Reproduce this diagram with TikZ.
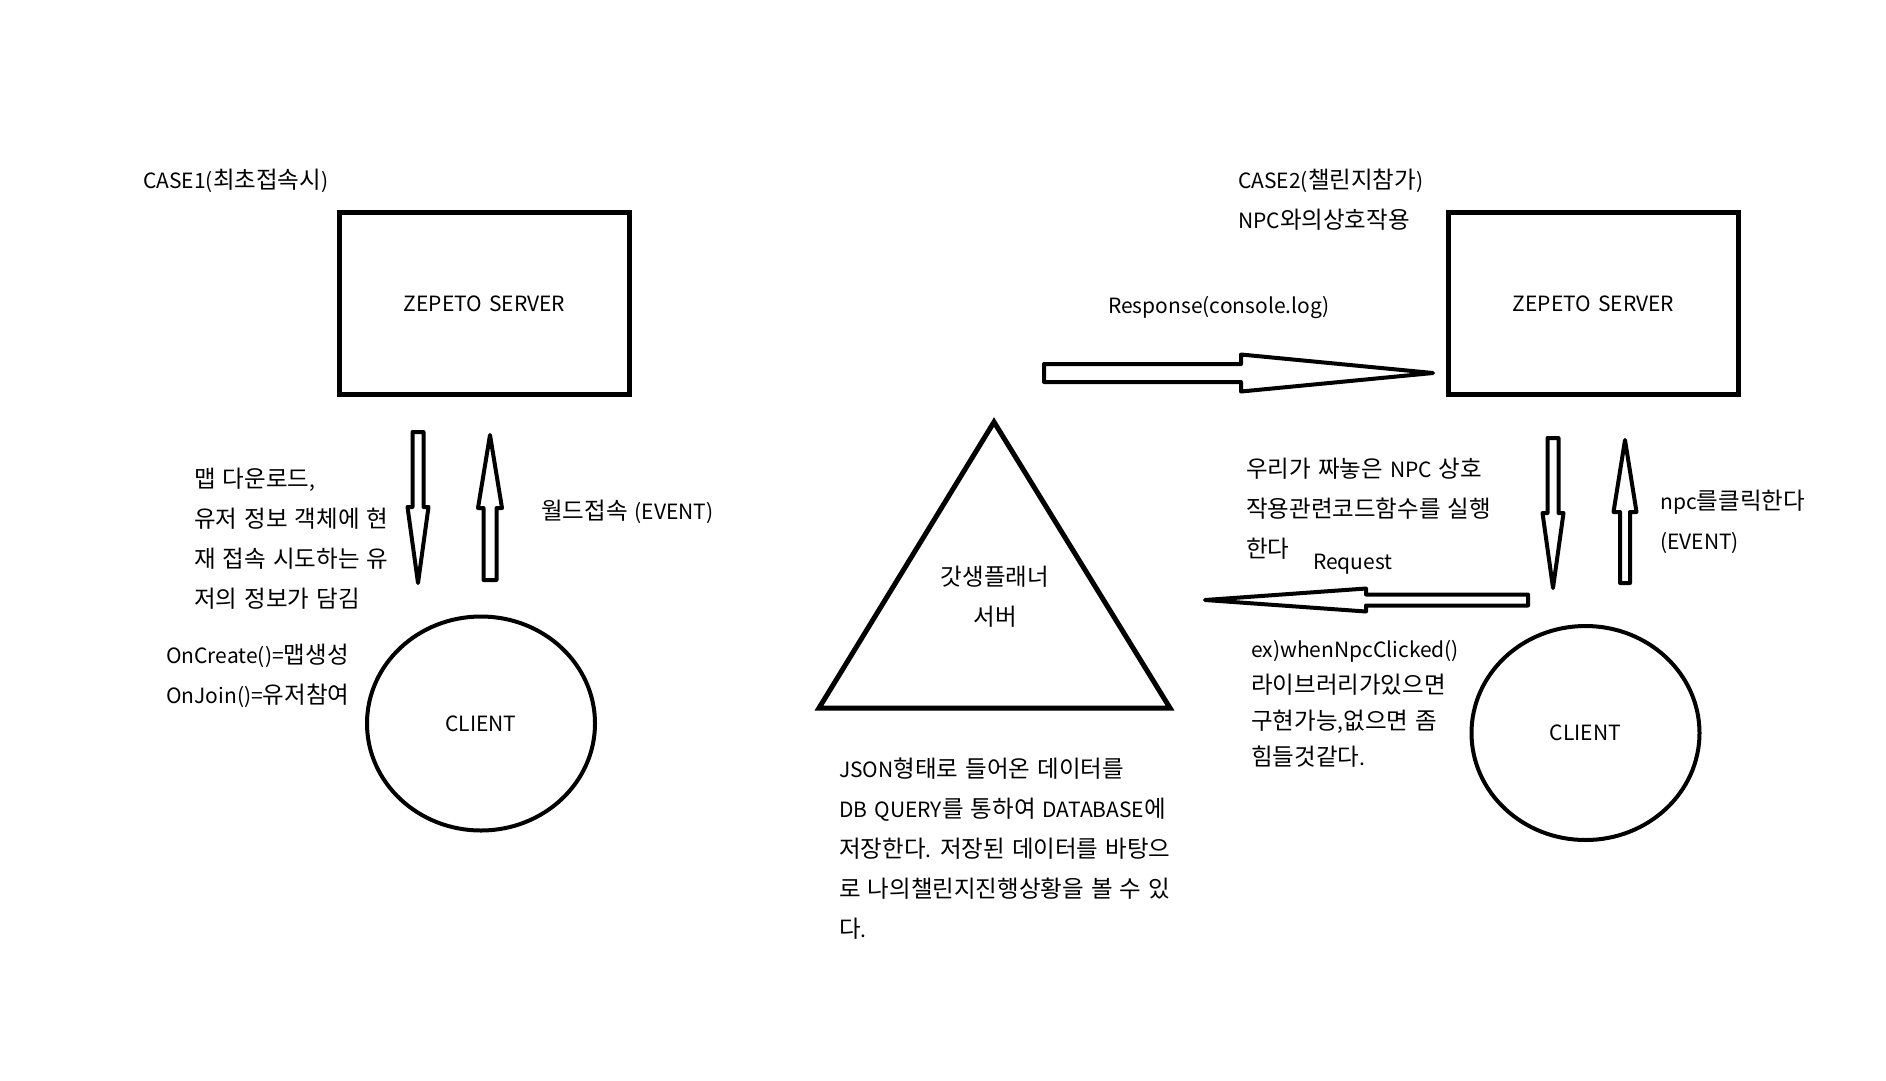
\documentclass[tikz,border=0pt]{standalone}
\usepackage{fontspec}
\setmainfont{Noto Sans CJK KR}[WordSpace=1.5]
\usetikzlibrary{shapes.geometric,calc}

% hangul set a little larger than latin
\XeTeXinterchartokenstate=1
\newXeTeXintercharclass\hangulcls
\newcount\hcnt
\hcnt="AC00
\loop
  \XeTeXcharclass\hcnt=\hangulcls
  \ifnum\hcnt<"D7A3 \advance\hcnt by 1
\repeat
\XeTeXinterchartoks 0 \hangulcls = {\begingroup\fontsize{23.5}{40}\selectfont}
\XeTeXinterchartoks 4095 \hangulcls = {\begingroup\fontsize{23.5}{40}\selectfont}
\XeTeXinterchartoks \hangulcls 0 = {\endgroup}
\XeTeXinterchartoks \hangulcls 4095 = {\endgroup}

\tikzset{
  server/.style={draw, line width=4.5pt, minimum width=290pt, minimum height=182pt, inner sep=0pt, font=\fontsize{21}{40}\selectfont},
  client/.style={draw, ellipse, line width=4pt, minimum width=228pt, minimum height=214pt, inner sep=0pt, font=\fontsize{21}{40}\selectfont},
  txt/.style={inner sep=0pt, align=left, font=\fontsize{21}{40}\selectfont},
  hollow/.style={draw, line width=4pt, line join=round},
}

% hollow block arrow: start, tip, shaft half width, head half width, head length
\newcommand{\blockarr}[5]{%
  \coordinate (hb) at ($(#2)!#5!(#1)$);
  \draw[hollow] ($(#1)!#3!90:(#2)$) -- ($(hb)!#3!90:(#2)$) -- ($(hb)!#4!90:(#2)$)
    -- (#2) -- ($(hb)!#4!-90:(#2)$) -- ($(hb)!#3!-90:(#2)$) -- ($(#1)!#3!-90:(#2)$) -- cycle;
}

\begin{document}
\begin{tikzpicture}[x=1pt, y=-1pt]
  \useasboundingbox (0,0) rectangle (1886,1080);
  \fill[white] (0,0) rectangle (1886,1080);

  % Nodes
  \node[server] (srvL) at (484.5,303.5) {ZEPETO SERVER};
  \node[client] (cliL) at (481,723.5) {CLIENT};
  \node[server] (srvR) at (1593.5,303.5) {ZEPETO SERVER};
  \node[client] (cliR) at (1585.5,733) {CLIENT};

  % planner server
  \coordinate (apex) at (994,422);
  \coordinate (baseL) at (819,708);
  \coordinate (baseR) at (1170,708);
  \draw[hollow, line width=5pt, line join=miter] (apex) -- (baseL) -- (baseR) -- cycle;
  \node[txt, align=center] (planner) at (995,597) {갓생플래너\\서버};

  % Texts
  \node[txt, anchor=west] (case1) at (143,181) {CASE1(최초접속시)};
  \node[txt, anchor=north west] (dlL) at (194,468) {맵 다운로드,\\유저 정보 객체에 현\\재 접속 시도하는 유\\저의 정보가 담김};
  \node[txt, anchor=west] (evL) at (541,512) {월드접속 (EVENT)};
  \node[txt, anchor=north west] (fnL) at (166,644) {OnCreate()=맵생성\\OnJoin()=유저참여};
  \node[txt, anchor=west] (resp) at (1108,308) {Response(console.log)};
  \node[txt, anchor=north west] (db) at (839,758) {JSON형태로 들어온 데이터를\\DB QUERY를 통하여 DATABASE에\\저장한다. 저장된 데이터를 바탕으\\로 나의챌린지진행상황을 볼 수 있\\다.};
  \node[txt, anchor=north west] (case2) at (1238,169) {CASE2(챌린지참가)\\NPC와의상호작용};
  \node[txt, anchor=north west] (npcR) at (1246,458) {우리가 짜놓은 NPC 상호\\작용관련코드함수를 실행\\한다};
  \node[txt, anchor=west] (req) at (1313,564) {Request};
  \node[txt, anchor=north west] (evR) at (1660,490) {npc를클릭한다\\(EVENT)};
  \node[txt, anchor=north west, font=\fontsize{21}{36}\selectfont] (exR) at (1251,640) {ex)whenNpcClicked()\\라이브러리가있으면\\구현가능,없으면 좀\\힘들것같다.};

  % Edges
  \coordinate (dLs) at (418,432);  \coordinate (dLt) at (418,583);
  \coordinate (uLs) at (490,580);  \coordinate (uLt) at (490,435);
  \coordinate (dRs) at (1553,438); \coordinate (dRt) at (1553,588);
  \coordinate (uRs) at (1625,583); \coordinate (uRt) at (1625,440);
  \coordinate (rsS) at (1044,373); \coordinate (rsT) at (1433,373);
  \coordinate (rqS) at (1528,600); \coordinate (rqT) at (1205,600);
  \blockarr{dLs}{dLt}{5.5pt}{10.5pt}{76pt}
  \blockarr{uLs}{uLt}{6.5pt}{12pt}{73pt}
  \blockarr{dRs}{dRt}{5.5pt}{10.5pt}{75pt}
  \blockarr{uRs}{uRt}{5pt}{11.5pt}{72pt}
  \blockarr{rsS}{rsT}{9pt}{18.5pt}{192pt}
  \blockarr{rqS}{rqT}{5.5pt}{11.5pt}{161pt}
\end{tikzpicture}
\end{document}
